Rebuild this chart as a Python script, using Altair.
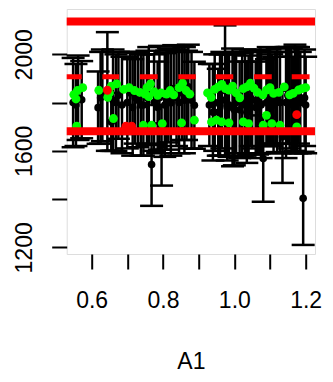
import altair as alt
import pandas as pd

# black points with symmetric error bars
black_x = [0.548, 0.556, 0.562, 0.572,
           0.618, 0.625, 0.630, 0.644, 0.655, 0.660, 0.668, 0.675, 0.685,
           0.700, 0.708, 0.715, 0.722, 0.730, 0.738, 0.745, 0.755, 0.760, 0.768, 0.775,
           0.785, 0.790, 0.796, 0.805, 0.810,
           0.815, 0.822, 0.830, 0.838, 0.845, 0.853, 0.860, 0.866, 0.871, 0.880, 0.888,
           0.930, 0.940, 0.945, 0.955, 0.960, 0.965, 0.974, 0.980, 0.985, 0.995, 1.000, 1.005,
           1.015, 1.022, 1.030, 1.035, 1.040, 1.045, 1.050, 1.060, 1.065, 1.070, 1.075, 1.081,
           1.090, 1.095, 1.100, 1.105,
           1.110, 1.115, 1.120, 1.128, 1.135, 1.145, 1.150, 1.155, 1.160, 1.165, 1.170, 1.175,
           1.180, 1.185, 1.193, 1.197, 1.200]
black_y = [1800, 1790, 1820, 1812,
           1779, 1820, 1830, 1846, 1720, 1810, 1800, 1830, 1790,
           1800, 1840, 1780, 1820, 1810, 1790, 1790, 1820, 1830, 1543, 1800,
           1780, 1820, 1623, 1790, 1810,
           1830, 1800, 1858, 1820, 1800, 1840, 1810, 1830, 1865, 1810, 1789,
           1790, 1760, 1800, 1760, 1790, 1810, 1850, 1780, 1790, 1780, 1770, 1800,
           1770, 1790, 1800, 1760, 1790, 1820, 1810, 1780, 1800, 1800, 1790, 1568,
           1800, 1830, 1820, 1810,
           1790, 1820, 1810, 1800, 1658, 1800, 1830, 1820, 1810, 1790, 1820, 1810,
           1830, 1800, 1403, 1820, 1790]
black_err = [185, 170, 175, 160,
             150, 190, 190, 246, 120, 210, 200, 180, 200,
             190, 170, 200, 190, 195, 210, 210, 195, 200, 171, 200,
             190, 215, 167, 215, 205,
             195, 220, 180, 200, 210, 195, 220, 185, 175, 200, 180,
             170, 200, 200, 180, 210, 200, 270, 220, 215, 244, 230, 210,
             200, 215, 220, 210, 205, 200, 200, 190, 215, 210, 220, 179,
             180, 200, 200, 190,
             200, 190, 215, 210, 191, 230, 200, 210, 215, 200, 220, 220,
             200, 210, 193, 200, 200]

# green points (upper and lower bands)
green_x = [0.55, 0.556, 0.56, 0.575, 0.62, 0.645, 0.65, 0.655, 0.67, 0.69, 0.705, 0.72, 0.735,
           0.75, 0.755, 0.76, 0.765, 0.775, 0.785, 0.795, 0.81, 0.82, 0.83, 0.845, 0.855,
           0.865, 0.875, 0.925, 0.935, 0.945, 0.955, 0.965, 0.975, 0.985, 0.995, 1.005, 1.015,
           1.025, 1.035, 1.045, 1.055, 1.065, 1.08, 1.09, 1.10, 1.11, 1.125, 1.14, 1.155,
           1.165, 1.18, 1.19, 1.20]
green_y = [1833, 1815, 1850, 1862, 1851, 1822, 1840, 1868, 1878, 1855, 1862, 1850, 1842,
           1835, 1862, 1825, 1878, 1845, 1830, 1840, 1835, 1850, 1832, 1862, 1880,
           1850, 1835, 1840, 1822, 1855, 1865, 1875, 1858, 1852, 1868, 1840, 1820,
           1858, 1865, 1880, 1860, 1842, 1832, 1852, 1862, 1838, 1842, 1865, 1832,
           1838, 1852, 1858, 1862]
green_low_x = [0.558, 0.661, 0.745, 0.768, 0.798, 0.852, 0.888, 0.936, 0.95, 0.965, 0.985,
               1.025, 1.04, 1.081, 1.09, 1.105, 1.128, 1.175]
green_low_y = [1702, 1734, 1706, 1706, 1713, 1716, 1727, 1720, 1727, 1720, 1716,
               1720, 1713, 1706, 1747, 1713, 1706, 1699]

# red points
red_x = [0.644, 0.696, 0.712, 1.175]
red_y = [1851, 1702, 1702, 1750]

# red reference lines
hline_y = [2136, 1681]
seg_start = [0.522, 0.630, 0.735, 0.843, 0.948, 1.055, 1.161]
seg_end = [0.572, 0.677, 0.785, 0.892, 0.997, 1.105, 1.211]
seg_level = 1907

FONT = "Liberation Sans"

black_df = pd.DataFrame({"x": black_x, "y": black_y, "e": black_err})
black_df["lo"] = black_df["y"] - black_df["e"]
black_df["hi"] = black_df["y"] + black_df["e"]
green_df = pd.DataFrame({"x": green_x + green_low_x, "y": green_y + green_low_y})
red_df = pd.DataFrame({"x": red_x, "y": red_y})
hline_df = pd.DataFrame({"y": hline_y})
seg_df = pd.DataFrame({"x": seg_start, "x2": seg_end, "y": [seg_level] * len(seg_start)})

xscale = alt.Scale(domain=[0.53, 1.2262], nice=False, zero=False)
yscale = alt.Scale(domain=[1172.4, 2187.9], nice=False, zero=False)

xaxis = alt.Axis(
    values=[0.6, 0.7, 0.8, 0.9, 1.0, 1.1, 1.2], format=".1f",
    labelExpr="indexof(['0.6','0.8','1.0','1.2'], datum.label) >= 0 ? datum.label : ''",
    tickSize=15, tickWidth=2, tickColor="black", domain=False, grid=False,
    labelFont=FONT, labelFontSize=23, labelColor="black", labelPadding=20,
    labelBaseline="top", labelOverlap=False, labelFlush=False,
    title="A1", titleFont=FONT, titleFontSize=23, titleFontWeight="normal",
    titleColor="black", titleBaseline="alphabetic", titleY=114)
yaxis = alt.Axis(
    values=[1200, 1400, 1600, 1800, 2000], format="d",
    labelExpr="datum.value % 400 == 0 ? datum.label : ''",
    tickSize=15, tickWidth=2, tickColor="black", domain=False, grid=False,
    labelFont=FONT, labelFontSize=23, labelColor="black", labelPadding=20,
    labelAngle=270, labelAlign="center", labelBaseline="alphabetic",
    labelOverlap=False, labelFlush=False, title="")


def X(f):
    return alt.X(f, type="quantitative", scale=xscale, axis=xaxis)


def Y(f):
    return alt.Y(f, type="quantitative", scale=yscale, axis=yaxis)


bars = alt.Chart(black_df).mark_rule(color="black", strokeWidth=2.5).encode(
    x=X("x"), y=Y("lo"), y2="hi")
caps_lo = alt.Chart(black_df).mark_tick(color="black", orient="horizontal", size=23,
                                        thickness=2.5, opacity=1).encode(x=X("x"), y=Y("lo"))
caps_hi = alt.Chart(black_df).mark_tick(color="black", orient="horizontal", size=23,
                                        thickness=2.5, opacity=1).encode(x=X("x"), y=Y("hi"))
bpts = alt.Chart(black_df).mark_circle(color="black", size=58, opacity=1).encode(
    x=X("x"), y=Y("y"))
gpts = alt.Chart(green_df).mark_circle(color="#00FF00", size=78, opacity=1).encode(
    x=X("x"), y=Y("y"))
rpts = alt.Chart(red_df).mark_circle(color="#FF0000", size=78, opacity=1).encode(
    x=X("x"), y=Y("y"))
hlines = alt.Chart(hline_df).mark_rule(color="#FF0000", strokeWidth=8).encode(y=Y("y"))
segs = alt.Chart(seg_df).mark_rule(color="#FF0000", strokeWidth=5, clip=True).encode(
    x=X("x"), x2="x2", y=Y("y"))

chart = alt.layer(bars, caps_lo, caps_hi, bpts, gpts, rpts, hlines, segs).properties(
    width=248.3, height=245,
    autosize=alt.AutoSizeParams(type="none"),
    padding={"left": 58.7, "top": 1, "right": 10, "bottom": 120},
).configure_view(stroke="black", strokeWidth=2, fill="white").configure(background="white")

chart.save("out.html", embed_options={"renderer": "svg", "actions": False})
